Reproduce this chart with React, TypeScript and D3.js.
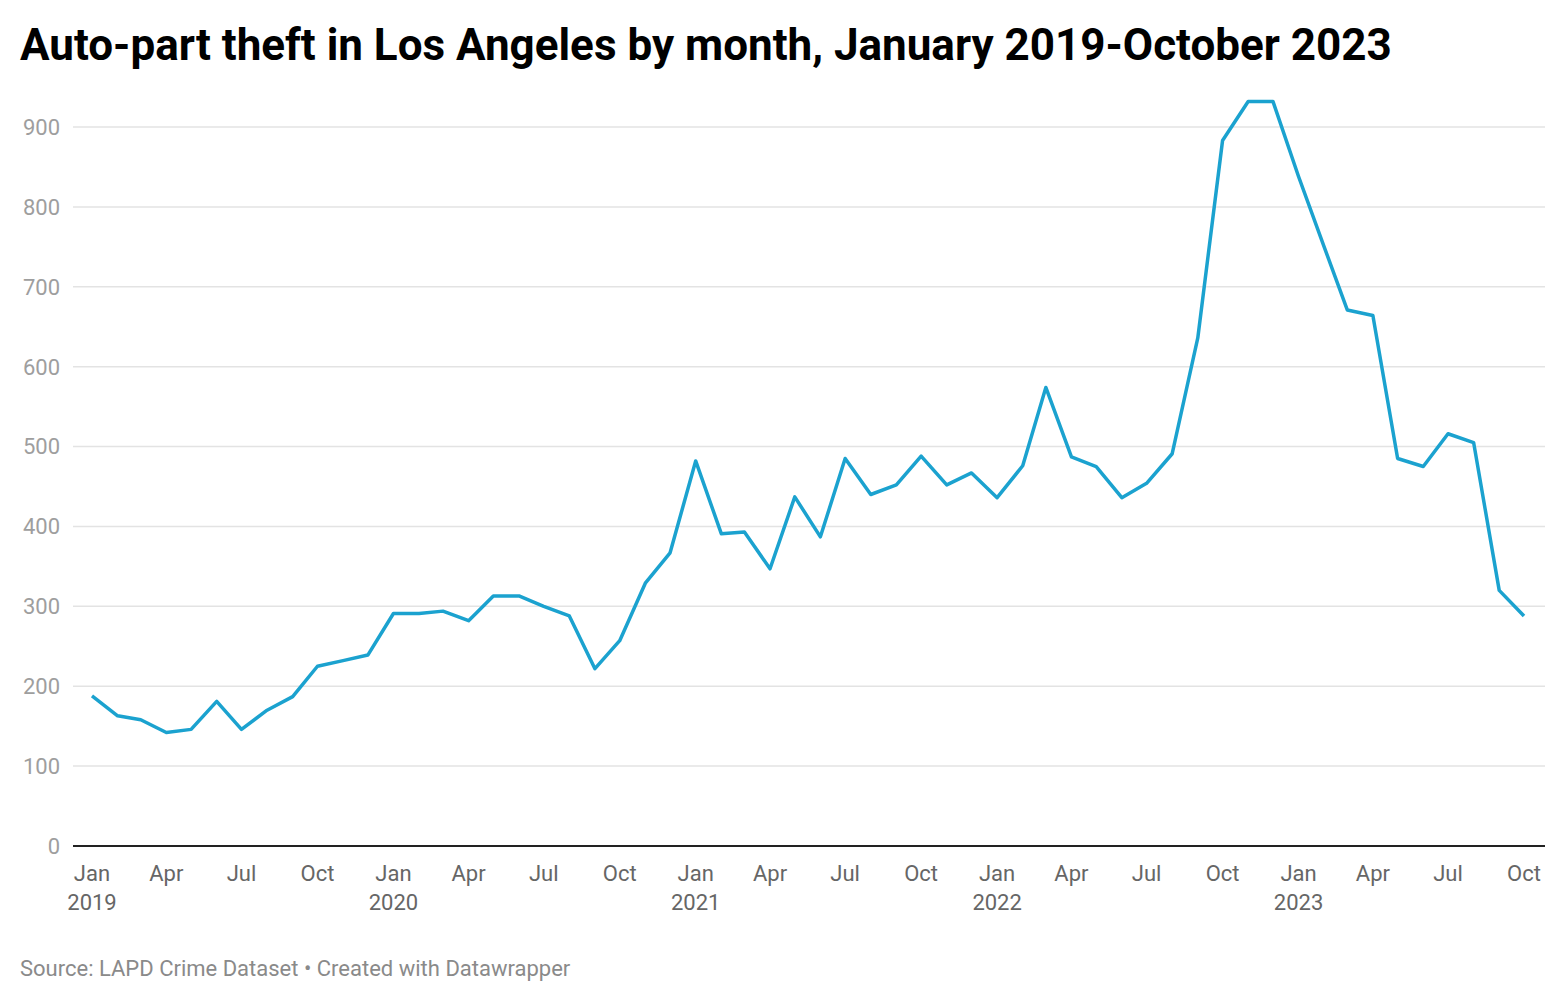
import React from "react";
import * as d3 from "d3";

// monthly counts, Jan 2019 .. Oct 2023
const startMonth = "2019-01";
const thefts = [
  188, 163, 158, 142, 146, 181, 146, 170, 187, 225, 232, 239,
  291, 291, 294, 282, 313, 313, 300, 288, 222, 257, 329, 367,
  482, 391, 393, 347, 437, 387, 485, 440, 452, 488, 452, 467,
  436, 476, 574, 487, 475, 436, 454, 491, 636, 883, 932, 932,
  838, 750, 671, 664, 485, 475, 516, 505, 320, 288,
];
const yTicks = [0, 100, 200, 300, 400, 500, 600, 700, 800, 900];
const monthNames = ["Jan", "Feb", "Mar", "Apr", "May", "Jun", "Jul", "Aug", "Sep", "Oct", "Nov", "Dec"];

const title = "Auto-part theft in Los Angeles by month, January 2019-October 2023";
const source = "Source: LAPD Crime Dataset \u2022 Created with Datawrapper";

const App = () => {
  const width = 1568;
  const height = 1002;
  const margin = { top: 127, right: 44, bottom: 156, left: 92 };
  const gridLeft = 73;
  const gridRight = 1545;

  const start = d3.timeParse("%Y-%m")(startMonth) as Date;
  const data = thefts.map((v, i) => ({ date: d3.timeMonth.offset(start, i), value: v }));

  const xScale = d3
    .scaleTime()
    .domain(d3.extent(data, (d) => d.date) as [Date, Date])
    .range([margin.left, width - margin.right]);
  const yScale = d3.scaleLinear().domain([0, 900]).range([height - margin.bottom, margin.top]);

  const line = d3
    .line<{ date: Date; value: number }>()
    .x((d) => xScale(d.date))
    .y((d) => yScale(d.value));

  const xTicks = data.filter((d) => d.date.getMonth() % 3 === 0).map((d) => d.date);
  const font = "Roboto, 'Noto Sans', sans-serif";

  return (
    <svg
      width={width}
      height={height}
      style={{ position: "absolute", left: 0, top: 0, background: "#fff" }}
      fontFamily={font}
    >
      <text x={20} y={60} fontSize={44} fontWeight={700} fill="#000">
        {title}
      </text>

      {yTicks.map((t) => (
        <g key={t}>
          {t > 0 && (
            <line x1={gridLeft} x2={gridRight} y1={yScale(t)} y2={yScale(t)} stroke="#e3e3e3" strokeWidth={1.5} />
          )}
          <text x={60} y={yScale(t)} dy="0.36em" textAnchor="end" fontSize={22} fill="#9e9e9e">
            {t}
          </text>
        </g>
      ))}

      <path d={line(data) ?? ""} fill="none" stroke="#1ba2cf" strokeWidth={3.5} strokeLinejoin="round" />

      <line x1={gridLeft} x2={gridRight} y1={yScale(0)} y2={yScale(0)} stroke="#222" strokeWidth={2} />

      {xTicks.map((d) => (
        <text key={d.getTime()} x={xScale(d)} y={881} textAnchor="middle" fontSize={22} fill="#666">
          {monthNames[d.getMonth()]}
          {d.getMonth() === 0 && (
            <tspan x={xScale(d)} dy={29}>
              {d.getFullYear()}
            </tspan>
          )}
        </text>
      ))}

      <text x={20} y={976} fontSize={22} fill="#8a8a8a">
        {source}
      </text>
    </svg>
  );
};

export default App;
